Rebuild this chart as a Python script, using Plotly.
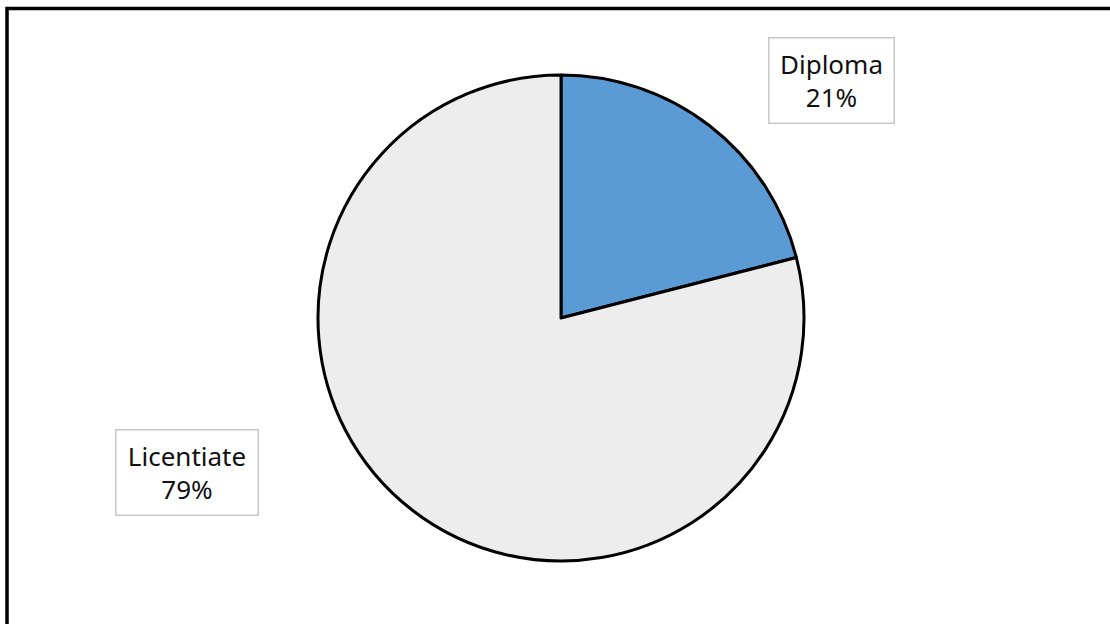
import plotly.graph_objects as go

# Share of respondents by education grade
categories = ["Diploma", "Licentiate"]
shares = [21, 79]
colors = ["#5B9BD5", "#EDEDED"]

W, H = 1110, 624

fig = go.Figure(
    go.Pie(
        labels=categories,
        values=shares,
        sort=False,
        direction="clockwise",
        rotation=0,
        marker=dict(colors=colors, line=dict(color="black", width=3)),
        textinfo="none",
        hoverinfo="label+percent",
        showlegend=False,
        domain=dict(x=[318 / W, 804 / W], y=[(H - 561) / H, (H - 75) / H]),
    )
)

# Data callouts: boxed label + percent
label_pos = {"Diploma": (831, 80), "Licentiate": (186.5, 472.5)}
box_w = {"Diploma": 124, "Licentiate": 141}
for cat, val in zip(categories, shares):
    px, py = label_pos[cat]
    fig.add_annotation(
        x=px / W, y=1 - py / H, xref="paper", yref="paper",
        xanchor="center", yanchor="middle",
        text=f"{cat}<br>{val}%", showarrow=False,
        font=dict(family="Noto Sans, sans-serif", size=26, color="#111111"),
        align="center", bgcolor="white",
        bordercolor="#C8C8C8", borderwidth=1.5, borderpad=0,
        width=box_w[cat], height=84,
    )

# Caption line above the frame (mostly off the top of the page)
fig.add_annotation(
    x=-2 / W, y=1 - 0.5 / H, xref="paper", yref="paper", xanchor="left", yanchor="bottom",
    text="Distribution of respondents by education grade", showarrow=False,
    font=dict(family="Liberation Serif, serif", size=17, color="#44546A"),
    borderpad=0,
)

# Chart frame
fig.add_shape(
    type="rect", xref="paper", yref="paper",
    x0=7 / W, x1=1 + 20 / W, y0=-20 / H, y1=1 - 8.5 / H,
    line=dict(color="black", width=3.5), fillcolor="rgba(0,0,0,0)",
)

fig.update_layout(
    width=W, height=H,
    margin=dict(l=0, r=0, t=0, b=0),
    paper_bgcolor="white", plot_bgcolor="white",
)

fig.write_html("out.html")
